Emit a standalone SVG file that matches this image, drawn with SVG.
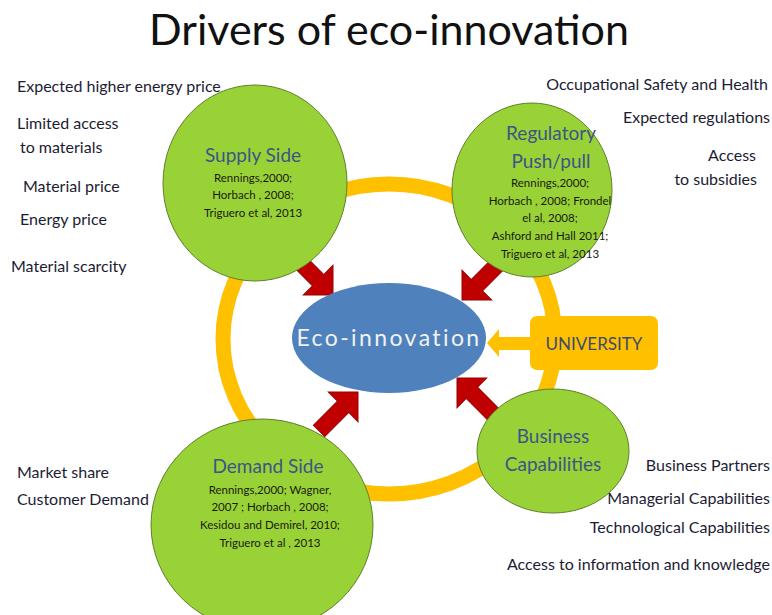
<svg xmlns="http://www.w3.org/2000/svg" width="772" height="615" viewBox="0 0 772 615">
  <style>
    .title { font-family: Lato, "Liberation Sans", sans-serif; font-size: 43px; fill: #111; }
    .lbl { font-family: Lato, "Liberation Sans", sans-serif; font-size: 16px; fill: #1c1c34; }
    .lbl-r { text-anchor: end; }
    .head { font-family: Lato, "Liberation Sans", sans-serif; font-size: 19px; fill: #3d5488; text-anchor: middle; }
    .ref { font-family: Lato, "Liberation Sans", sans-serif; font-size: 11.5px; fill: #1a1a10; text-anchor: middle; }
    .driver { fill: #98d236; stroke: #5f7f2c; stroke-width: 1; }
    .ring { fill: none; stroke: #ffc000; stroke-width: 15; }
    .red { fill: #c00000; stroke: #9a0000; stroke-width: 1; }
    .core { fill: #4f81bd; }
    .core-txt { font-family: Lato, "Liberation Sans", sans-serif; font-size: 23px; fill: #f2f2f2; text-anchor: middle; letter-spacing: 2.4px; }
    .uni { fill: #ffc000; }
    .uni-txt { font-family: Lato, "Liberation Sans", sans-serif; font-size: 17px; fill: #3d4a72; text-anchor: middle; }
  </style>
  <defs>
    <!-- block arrow pointing along +x, tip at origin -->
    <path id="blockArrow" d="M0,0 L-21,-21 L-21,-8 L-55,-8 L-55,8 L-21,8 L-21,21 Z"/>
  </defs>

  <rect width="772" height="615" fill="#ffffff"/>

  <text class="title" x="389" y="45" text-anchor="middle">Drivers of eco-innovation</text>

  <!-- connectors: orange cycle ring, red block arrows, university arrow -->
  <g id="connectors">
    <ellipse class="ring" cx="389" cy="339" rx="166" ry="155"/>
    <use href="#blockArrow" class="red" transform="translate(333,295) rotate(45)"/>
    <use href="#blockArrow" class="red" transform="translate(462,300) rotate(135)"/>
    <use href="#blockArrow" class="red" transform="translate(358,392) rotate(-45)"/>
    <use href="#blockArrow" class="red" transform="translate(457,378) rotate(-135)"/>
    <path class="uni" d="M487,343 L499,329 L499,337 L534,337 L534,350 L499,350 L499,357 Z"/>
  </g>

  <g id="supply-side">
    <ellipse class="driver" cx="255" cy="183" rx="92" ry="98"/>
    <text class="head" x="253" y="162">Supply Side</text>
    <text class="ref" x="253" y="182">Rennings,2000;</text>
    <text class="ref" x="253" y="199">Horbach , 2008;</text>
    <text class="ref" x="253" y="217">Triguero et al, 2013</text>
  </g>

  <g id="regulatory">
    <ellipse class="driver" cx="532" cy="190" rx="80" ry="87"/>
    <text class="head" x="551" y="140">Regulatory</text>
    <text class="head" x="551" y="168">Push/pull</text>
    <text class="ref" x="550" y="187">Rennings,2000;</text>
    <text class="ref" x="550" y="205">Horbach , 2008;  Frondel</text>
    <text class="ref" x="550" y="222">el al, 2008;</text>
    <text class="ref" x="550" y="240">Ashford and Hall 2011;</text>
    <text class="ref" x="550" y="258">Triguero et al, 2013</text>
  </g>

  <g id="demand-side">
    <ellipse class="driver" cx="262" cy="525" rx="111" ry="106"/>
    <text class="head" x="268" y="473">Demand Side</text>
    <text class="ref" x="270" y="494">Rennings,2000;  Wagner,</text>
    <text class="ref" x="270" y="511">2007 ; Horbach  , 2008;</text>
    <text class="ref" x="270" y="529">Kesidou and Demirel, 2010;</text>
    <text class="ref" x="270" y="547">Triguero et al , 2013</text>
  </g>

  <g id="business">
    <ellipse class="driver" cx="553" cy="451" rx="76" ry="62"/>
    <text class="head" x="553" y="443">Business</text>
    <text class="head" x="553" y="471">Capabilities</text>
  </g>

  <g id="eco-innovation">
    <ellipse class="core" cx="389" cy="338" rx="97" ry="55"/>
    <text class="core-txt" x="389" y="346">Eco-innovation</text>
  </g>

  <g id="university">
    <rect class="uni" x="530" y="316" width="128" height="54" rx="7"/>
    <text class="uni-txt" x="594" y="350">UNIVERSITY</text>
  </g>

  <g id="supply-factors">
    <text class="lbl" x="17" y="92">Expected higher energy price</text>
    <text class="lbl" x="17" y="129">Limited access</text>
    <text class="lbl" x="20" y="153">to materials</text>
    <text class="lbl" x="23" y="192">Material price</text>
    <text class="lbl" x="20" y="225">Energy price</text>
    <text class="lbl" x="11" y="272">Material scarcity</text>
  </g>

  <g id="regulatory-factors">
    <text class="lbl lbl-r" x="768" y="90">Occupational Safety and Health</text>
    <text class="lbl lbl-r" x="770" y="123">Expected regulations</text>
    <text class="lbl lbl-r" x="756" y="161">Access</text>
    <text class="lbl lbl-r" x="757" y="185">to subsidies</text>
  </g>

  <g id="demand-factors">
    <text class="lbl" x="17" y="478">Market share</text>
    <text class="lbl" x="17" y="505">Customer Demand</text>
  </g>

  <g id="business-factors">
    <text class="lbl lbl-r" x="770" y="471">Business Partners</text>
    <text class="lbl lbl-r" x="770" y="504">Managerial Capabilities</text>
    <text class="lbl lbl-r" x="770" y="533">Technological Capabilities</text>
    <text class="lbl lbl-r" x="770" y="570">Access to information and knowledge</text>
  </g>
</svg>
